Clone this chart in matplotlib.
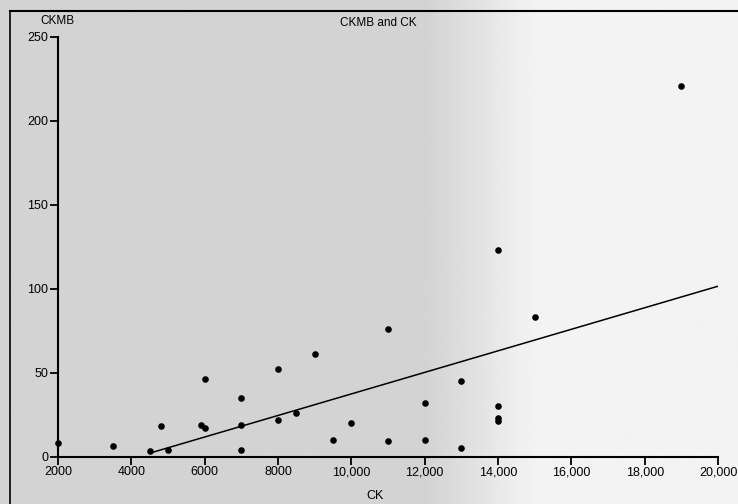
import numpy as np
import matplotlib.pyplot as plt

# CK (x) and CKMB (y) values
ck = [2000, 3500, 4500, 5000, 4800, 6000, 5900, 6000, 7000, 7000, 7000,
      8000, 8000, 8500, 9000, 9500, 10000, 11000, 11000, 12000, 12000,
      13000, 13000, 14000, 14000, 14000, 14000, 15000, 19000]
ckmb = [8, 6, 3, 4, 18, 46, 19, 17, 35, 19, 4,
        52, 22, 26, 61, 10, 20, 76, 9, 32, 10,
        45, 5, 123, 30, 23, 21, 83, 221]

# regression line as drawn in the picture
fit_x = [4500, 20000]
fit_y = [2, 101.5]

xticks = [2000, 4000, 6000, 8000, 10000, 12000, 14000, 16000, 18000, 20000]
xlabels = ['2000', '4000', '6000', '8000', '10,000', '12,000', '14,000',
           '16,000', '18,000', '20,000']
yticks = [0, 50, 100, 150, 200, 250]

plt.rcParams['font.family'] = ['Liberation Sans', 'DejaVu Sans']

fig = plt.figure(figsize=(7.38, 5.04), dpi=100)

# scan-like grey background, lighter on the right
bg = fig.add_axes([0, 0, 1, 1], zorder=-10)
grad = np.linspace(0, 1, 256)
shade = 0.83 + 0.12 * np.clip((grad - 0.58) / 0.14, 0, 1)
bg.imshow(shade[np.newaxis, :], cmap='gray', vmin=0, vmax=1, aspect='auto',
          extent=[0, 1, 0, 1])
bg.set_xlim(0, 1)
bg.set_ylim(0, 1)
bg.axis('off')
# outer frame lines (top and left)
bg.plot([0.013, 1], [0.978, 0.978], color='black', lw=1.5)
bg.plot([0.013, 0.013], [0, 0.978], color='black', lw=1.2)

ax = fig.add_axes([0.0786, 0.0942, 0.8944, 0.8324])
ax.patch.set_alpha(0)
ax.scatter(ck, ckmb, s=14, color='black', zorder=3, clip_on=False)
ax.plot(fit_x, fit_y, color='black', lw=1.1)

ax.set_xlim(2000, 20000)
ax.set_ylim(0, 250)
ax.set_xticks(xticks)
ax.set_xticklabels(xlabels)
ax.set_yticks(yticks)
for s in ['top', 'right']:
    ax.spines[s].set_visible(False)
for s in ['left', 'bottom']:
    ax.spines[s].set_linewidth(1.5)
ax.tick_params(axis='both', direction='out', length=6, width=1.3,
               labelsize=9, pad=1)

fig.text(0.512, 0.955, 'CKMB and CK', ha='center', va='center', fontsize=8.5)
fig.text(0.078, 0.958, 'CKMB', ha='center', va='center', fontsize=8.5)
fig.text(0.508, 0.016, 'CK', ha='center', va='center', fontsize=9)

fig.savefig('out.png', dpi=100)
